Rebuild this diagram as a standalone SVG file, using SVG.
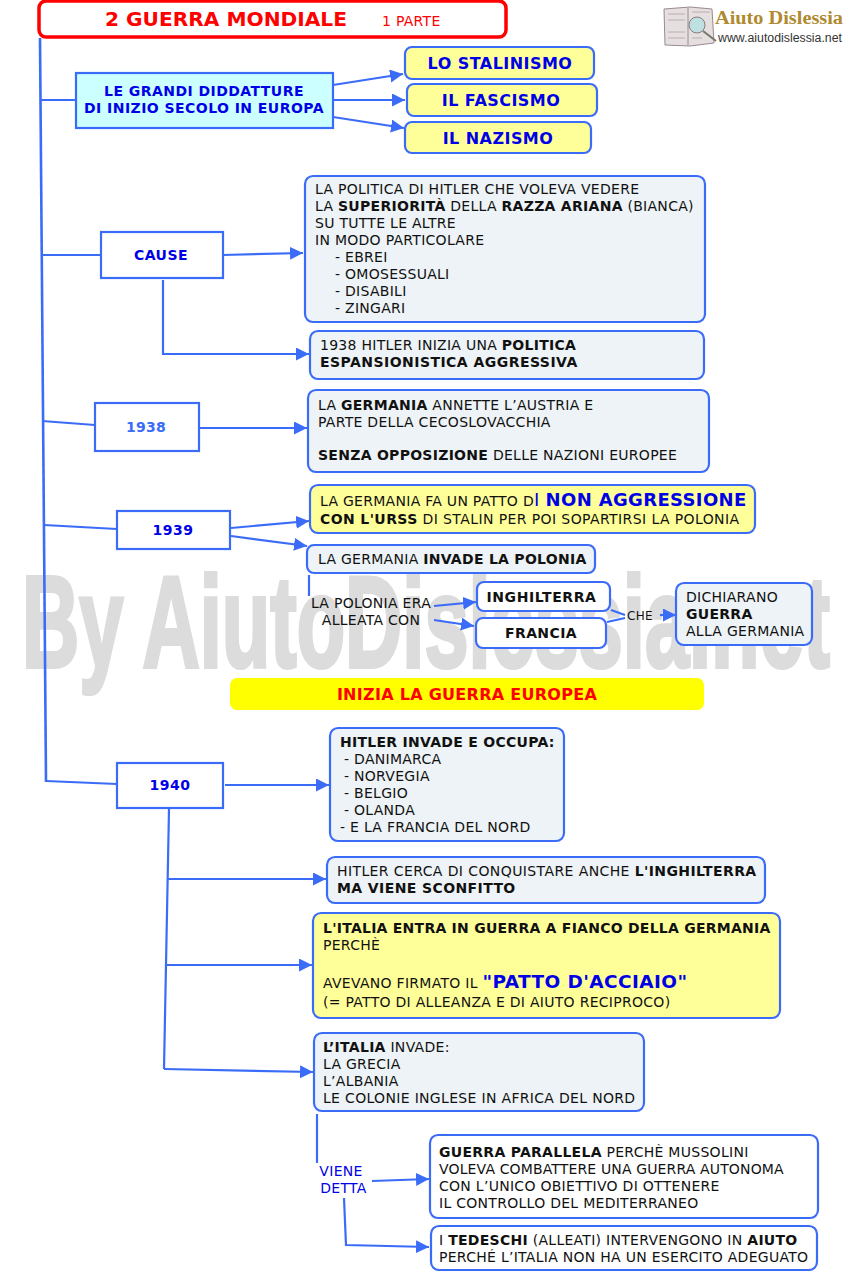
<svg xmlns="http://www.w3.org/2000/svg" width="851" height="1273" viewBox="0 0 851 1273">
<style>
text{font-family:"DejaVu Sans",Verdana,sans-serif;font-size:14px;fill:#111;letter-spacing:.28px}
.b{font-weight:bold}
.h{font-weight:bold;fill:#0000e6;letter-spacing:.45px}
.c{text-anchor:middle}
.s{letter-spacing:.4px}
.n rect{stroke:#3b6cf8;stroke-width:2.2}
.g{fill:#edf3f6}.y{fill:#ffff99}.w{fill:#fff}.a{fill:#ccffff}
#connectors path{fill:none;stroke:#3b6cf8;stroke-width:2.2}
.ar{marker-end:url(#m)}
</style>
<defs><marker id="m" markerUnits="userSpaceOnUse" markerWidth="15" markerHeight="14" refX="13" refY="6.5" orient="auto"><path d="M0 0L13 6.5L0 13Z" fill="#3b6cf8"/></marker></defs>
<rect width="851" height="1273" fill="#fff"/>
<text id="watermark" x="22" y="667" textLength="808" lengthAdjust="spacingAndGlyphs" style="font-family:'Liberation Sans',sans-serif;font-weight:bold;font-size:130px;fill:#dcdcdc;stroke:#dcdcdc;stroke-width:4;letter-spacing:0">By AiutoDislessia.net</text>
<g id="logo">
<path d="M664 9L690 7L712 9L714 43L690 46L665 45Z" fill="#e6dfe0" stroke="#9a8a92"/>
<path d="M688 8V45" stroke="#9a8a92"/>
<path d="M668 14H685M668 20H685M668 32H685M668 38H685M692 12H710M692 38H702" stroke="#b9aeb3"/>
<circle cx="697" cy="25" r="8" fill="#bfe0e0" stroke="#8a7a80"/>
<path d="M703 31L716 41" stroke="#776" stroke-width="2"/>
<text x="715" y="24" style="font-family:'Liberation Serif',serif;font-weight:bold;font-size:18px;fill:#b08a30;letter-spacing:0" textLength="128" lengthAdjust="spacingAndGlyphs">Aiuto Dislessia</text>
<text x="718" y="42" style="font-family:'Liberation Sans',sans-serif;font-size:12px;fill:#333;letter-spacing:0" textLength="124" lengthAdjust="spacingAndGlyphs">www.aiutodislessia.net</text>
</g>
<g id="connectors">
<path d="M40 38L46 782" style="stroke-width:2.6"/>
<path d="M41 100H76"/><path d="M42 255H101"/><path d="M42 421L95 425"/><path d="M44 525L117 529"/><path d="M46 781L117 784"/>
<path class="ar" d="M333 85L403 74"/><path class="ar" d="M333 100H405"/><path class="ar" d="M333 117L404 128"/>
<path class="ar" d="M223 255L303 253"/><path class="ar" d="M163 280V354H309"/>
<path class="ar" d="M199 428H307"/>
<path class="ar" d="M231 528L309 521"/><path class="ar" d="M231 536L307 546"/>
<path d="M309 575V596"/>
<path class="ar" d="M434 606L476 602"/><path class="ar" d="M434 620L474 626"/>
<path d="M611 610L625 615"/><path d="M607 622L625 618"/><path class="ar" d="M660 615H676"/>
<path class="ar" d="M225 785H329"/>
<path d="M169 809L164 1069"/>
<path class="ar" d="M168 879H326"/><path class="ar" d="M166 965H312"/><path class="ar" d="M164 1069L313 1072"/>
<path d="M317 1114V1163"/>
<path class="ar" d="M372 1181L429 1179"/><path class="ar" d="M344 1198L346 1245L429 1247"/>
</g>
<g id="title" class="n"><rect x="39" y="1" width="467" height="36" rx="7" fill="#fff" style="stroke:#f00;stroke-width:3.5"/>
<text x="105" y="26" class="b" style="font-size:20px;fill:#f00;letter-spacing:0" textLength="242" lengthAdjust="spacingAndGlyphs">2 GUERRA MONDIALE</text><text x="382" y="26" style="fill:#f00">1 PARTE</text></g>
<g id="dittature" class="n"><rect x="76" y="73" width="257" height="55" class="a"/><text x="204" y="96" class="h c">LE GRANDI DIDDATTURE</text><text x="204" y="113" class="h c">DI INIZIO SECOLO IN EUROPA</text></g>
<g id="stalinismo" class="n"><rect x="405" y="47" width="189" height="32" rx="7" class="y"/><text x="500" y="69" class="h c" style="font-size:16px">LO STALINISMO</text></g>
<g id="fascismo" class="n"><rect x="407" y="84" width="190" height="32" rx="7" class="y"/><text x="501" y="106" class="h c" style="font-size:16px">IL FASCISMO</text></g>
<g id="nazismo" class="n"><rect x="405" y="122" width="186" height="31" rx="7" class="y"/><text x="498" y="144" class="h c" style="font-size:16px">IL NAZISMO</text></g>
<g id="cause" class="n"><rect x="101" y="232" width="122" height="46" class="w"/><text x="161" y="260" class="h c">CAUSE</text></g>
<g id="politica" class="n"><rect x="305" y="176" width="400" height="146" rx="8" class="g"/>
<text x="315" y="194">LA POLITICA DI HITLER CHE VOLEVA VEDERE</text>
<text x="315" y="211">LA <tspan class="b">SUPERIORITÀ</tspan> DELLA <tspan class="b">RAZZA ARIANA</tspan> (BIANCA)</text>
<text x="315" y="228">SU TUTTE LE ALTRE</text><text x="315" y="245">IN MODO PARTICOLARE</text>
<text x="335" y="262">- EBREI</text><text x="335" y="279">- OMOSESSUALI</text><text x="335" y="296">- DISABILI</text><text x="335" y="313">- ZINGARI</text></g>
<g id="espansione" class="n"><rect x="310" y="331" width="394" height="48" rx="8" class="g"/>
<text x="320" y="350">1938 HITLER INIZIA UNA <tspan class="b">POLITICA</tspan></text><text x="320" y="367" class="b" style="letter-spacing:.46px">ESPANSIONISTICA AGGRESSIVA</text></g>
<g id="y1938" class="n"><rect x="95" y="403" width="104" height="48" class="w"/><text x="146" y="432" class="c b" style="fill:#3b6cf8">1938</text></g>
<g id="austria" class="n"><rect x="308" y="390" width="401" height="82" rx="8" class="g"/>
<text x="318" y="410">LA <tspan class="b">GERMANIA</tspan> ANNETTE L’AUSTRIA E</text><text x="318" y="427">PARTE DELLA CECOSLOVACCHIA</text><text x="318" y="460"><tspan class="b">SENZA OPPOSIZIONE</tspan> DELLE NAZIONI EUROPEE</text></g>
<g id="y1939" class="n"><rect x="117" y="511" width="113" height="38" class="w"/><text x="173" y="535" class="h c">1939</text></g>
<g id="patto" class="n"><rect x="310" y="485" width="445" height="48" rx="8" class="y"/>
<text x="320" y="506">LA GERMANIA FA UN PATTO D<tspan style="font-size:18px;fill:#0000e6">I </tspan><tspan class="b" style="font-size:18px;fill:#0000e6;letter-spacing:.35px">NON AGGRESSIONE</tspan></text>
<text x="320" y="524" class="s"><tspan class="b">CON L'URSS</tspan> DI STALIN PER POI SOPARTIRSI LA POLONIA</text></g>
<g id="invade" class="n"><rect x="307" y="545" width="288" height="28" rx="7" class="g"/><text x="318" y="564">LA GERMANIA <tspan class="b">INVADE LA POLONIA</tspan></text></g>
<g id="alleata"><text x="371" y="608" class="c">LA POLONIA ERA</text><text x="371" y="625" class="c">ALLEATA CON</text></g>
<g id="inghilterra" class="n"><rect x="477" y="582" width="133" height="29" rx="7" class="w"/><text x="541.500" y="602" class="b c s" style="letter-spacing:.6px">INGHILTERRA</text></g>
<g id="francia" class="n"><rect x="476" y="618" width="130" height="30" rx="7" class="w"/><text x="541" y="638" class="b c s">FRANCIA</text></g>
<text x="640" y="620" class="c" style="font-size:12px">CHE</text>
<g id="dichiarano" class="n"><rect x="676" y="583" width="136" height="62" rx="8" class="g"/>
<text x="686" y="602">DICHIARANO</text><text x="686" y="619" class="b">GUERRA</text><text x="686" y="636">ALLA GERMANIA</text></g>
<g id="europea"><rect x="230" y="678" width="474" height="32" rx="7" fill="#ff0"/><text x="467" y="700" class="b c" style="font-size:16px;fill:#f00">INIZIA LA GUERRA EUROPEA</text></g>
<g id="y1940" class="n"><rect x="117" y="763" width="106" height="45" class="w"/><text x="170" y="790" class="h c">1940</text></g>
<g id="occupa" class="n"><rect x="330" y="728" width="234" height="113" rx="8" class="g"/>
<text x="340" y="747" class="b">HITLER INVADE E OCCUPA:</text><text x="344" y="764">- DANIMARCA</text><text x="344" y="781">- NORVEGIA</text><text x="344" y="798">- BELGIO</text><text x="344" y="815">- OLANDA</text><text x="340" y="832">- E LA FRANCIA DEL NORD</text></g>
<g id="inghilterra2" class="n"><rect x="327" y="857" width="438" height="46" rx="8" class="g"/>
<text x="337" y="876" class="s">HITLER CERCA DI CONQUISTARE ANCHE <tspan class="b">L'INGHILTERRA</tspan></text><text x="337" y="893" class="b s">MA VIENE SCONFITTO</text></g>
<g id="italia" class="n"><rect x="313" y="913" width="467" height="105" rx="8" class="y"/>
<text x="323" y="933" class="b" style="letter-spacing:.25px">L'ITALIA ENTRA IN GUERRA A FIANCO DELLA GERMANIA</text><text x="323" y="950">PERCHÈ</text>
<text x="323" y="988">AVEVANO FIRMATO IL <tspan class="b" style="font-size:18.500px;fill:#0000e6;letter-spacing:.4px">"PATTO D'ACCIAIO"</tspan></text>
<text x="323" y="1007">(= PATTO DI ALLEANZA E DI AIUTO RECIPROCO)</text></g>
<g id="invasioni" class="n"><rect x="314" y="1033" width="330" height="78" rx="8" class="g"/>
<text x="323" y="1052"><tspan class="b">L’ITALIA</tspan> INVADE:</text><text x="323" y="1069">LA GRECIA</text><text x="323" y="1086">L’ALBANIA</text><text x="323" y="1103" style="letter-spacing:.32px">LE COLONIE INGLESE IN AFRICA DEL NORD</text></g>
<g id="viene"><text x="341" y="1176" class="c" style="fill:#0000e6">VIENE</text><text x="343.500" y="1193" class="c" style="fill:#0000e6">DETTA</text></g>
<g id="parallela" class="n"><rect x="430" y="1135" width="388" height="83" rx="8" class="w"/>
<text x="439" y="1157"><tspan class="b">GUERRA PARALLELA</tspan> PERCHÈ MUSSOLINI</text><text x="439" y="1174" style="letter-spacing:.14px">VOLEVA COMBATTERE UNA GUERRA AUTONOMA</text><text x="439" y="1191">CON L’UNICO OBIETTIVO DI OTTENERE</text><text x="439" y="1208">IL CONTROLLO DEL MEDITERRANEO</text></g>
<g id="tedeschi" class="n"><rect x="431" y="1226" width="386" height="44" rx="8" class="w"/>
<text x="439" y="1245">I <tspan class="b">TEDESCHI</tspan> (ALLEATI) INTERVENGONO IN <tspan class="b">AIUTO</tspan></text><text x="439" y="1262">PERCHÉ L’ITALIA NON HA UN ESERCITO ADEGUATO</text></g>
</svg>
